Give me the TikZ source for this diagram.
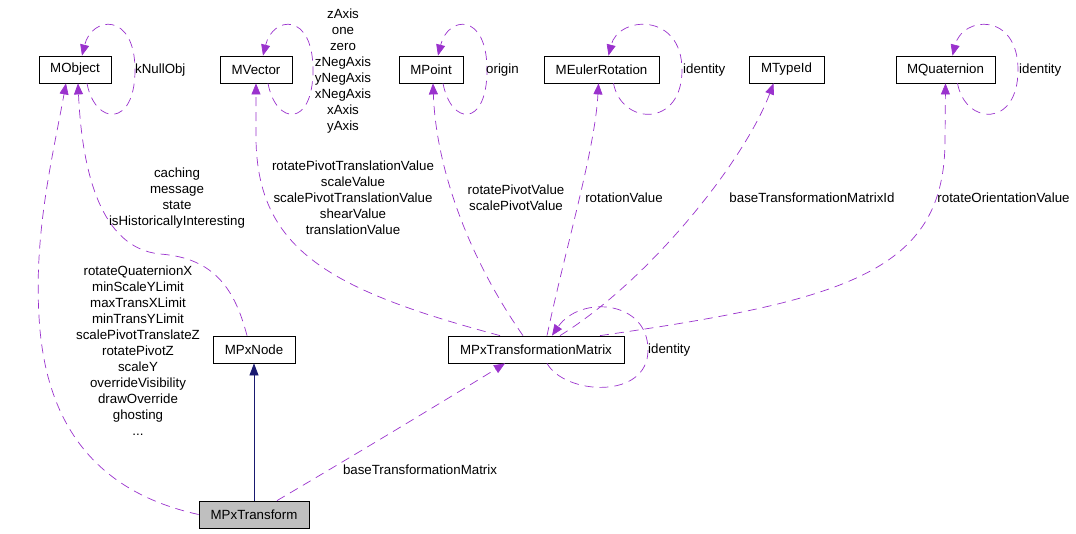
\documentclass[tikz,border=0pt]{standalone}
\usepackage{fontspec}
\setmainfont{Liberation Sans}
\usetikzlibrary{arrows.meta}
\definecolor{refcolor}{RGB}{154,50,205}
\definecolor{inhcolor}{RGB}{25,25,112}
\definecolor{boxgray}{RGB}{191,191,191}

\begin{document}
\begin{tikzpicture}[x=1pt,y=-1pt,
    font=\fontsize{13.3}{16}\selectfont,
    cls/.style={draw,line width=.8pt,inner sep=0pt,minimum height=27pt},
    ref/.style={refcolor,dash pattern=on 9pt off 6pt,line width=.7pt,-{Triangle[length=11pt,width=9pt]}},
    inh/.style={inhcolor,line width=.8pt,-{Triangle[length=12pt,width=9pt]}},
    lbl/.style={align=center,inner sep=0pt}]

    \useasboundingbox (0,0) rectangle (1076,533);

    %draw classes:
    \node[cls,minimum width=72pt] (obj) at (75,69.5) {MObject};
    \node[cls,minimum width=72pt] (vec) at (256,69.5) {MVector};
    \node[cls,minimum width=64pt] (pt) at (431,69.5) {MPoint};
    \node[cls,minimum width=115pt] (eul) at (601.5,69.5) {MEulerRotation};
    \node[cls,minimum width=75pt] (typ) at (786.5,69.5) {MTypeId};
    \node[cls,minimum width=99pt] (quat) at (945.5,69.5) {MQuaternion};
    \node[cls,minimum width=82pt] (pxnode) at (254,349.5) {MPxNode};
    \node[cls,minimum width=176pt] (mtx) at (536,349.5) {MPxTransformationMatrix};
    \node[cls,minimum width=110pt,fill=boxgray] (xform) at (254,514.5) {MPxTransform};

    %self loops on top row:
    \foreach \n/\r in {obj/135,vec/313,pt/487,eul/682,quat/1018}
        \draw[ref] ([xshift=12]\n.south) .. controls +(8,42) and +(0,58) .. (\r,70)
            .. controls +(0,-58) and +(10,-40) .. ([xshift=7]\n.north);

    %members of MPxTransform:
    \draw[inh] (xform) -- (pxnode);
    \draw[ref] (xform.west) .. controls (110,495) and (50,440) .. (40,330)
        .. controls (32,240) and (52,160) .. ([xshift=-9]obj.south);
    \draw[ref] ([xshift=23]xform.north) .. controls (380,440) and (470,385) .. ([xshift=-31]mtx.south);

    %MPxNode:
    \draw[ref] ([xshift=-7]pxnode.north) .. controls (235,290) and (215,258) .. (160,254)
        .. controls (100,248) and (82,170) .. ([xshift=3]obj.south);

    %MPxTransformationMatrix:
    \draw[ref] ([xshift=-36]mtx.north) .. controls (330,290) and (258,250) .. (256,140) -- (vec.south);
    \draw[ref] ([xshift=-13]mtx.north) .. controls (470,260) and (436,170) .. ([xshift=2]pt.south);
    \draw[ref] ([xshift=11]mtx.north) .. controls (565,250) and (595,150) .. ([xshift=-3]eul.south);
    \draw[ref] ([xshift=24]mtx.north) .. controls (650,280) and (745,160) .. ([xshift=-13]typ.south);
    \draw[ref] ([xshift=64]mtx.north) .. controls (850,300) and (945,270) .. (945,140) -- (quat.south);
    \draw[ref] ([xshift=11]mtx.south) .. controls (565,395) and (648,400) .. (648,350)
        .. controls (648,300) and (580,295) .. ([xshift=16]mtx.north);

    %labels:
    \node[lbl,anchor=west] (lnull) at (135,70) {kNullObj};
    \node[lbl] (lvecself) at (343,71) {zAxis\\one\\zero\\zNegAxis\\yNegAxis\\xNegAxis\\xAxis\\yAxis};
    \node[lbl,anchor=west] (lorigin) at (486,70) {origin};
    \node[lbl,anchor=west] (leulself) at (683,70) {identity};
    \node[lbl,anchor=west] (lquatself) at (1019,70) {identity};
    \node[lbl] (lnode) at (177,198.5) {caching\\message\\state\\isHistoricallyInteresting};
    \node[lbl] (lvec) at (353,198) {rotatePivotTranslationValue\\scaleValue\\scalePivotTranslationValue\\shearValue\\translationValue};
    \node[lbl] (lpt) at (516,198) {rotatePivotValue\\scalePivotValue};
    \node[lbl] (leul) at (624,198) {rotationValue};
    \node[lbl] (ltyp) at (812,198) {baseTransformationMatrixId};
    \node[lbl] (lquat) at (1003.5,198) {rotateOrientationValue};
    \node[lbl] (lobj) at (138,351) {rotateQuaternionX\\minScaleYLimit\\maxTransXLimit\\minTransYLimit\\scalePivotTranslateZ\\rotatePivotZ\\scaleY\\overrideVisibility\\drawOverride\\ghosting\\...};
    \node[lbl,anchor=west] (lmtxself) at (648,350) {identity};
    \node[lbl] (lmtx) at (420,470) {baseTransformationMatrix};

\end{tikzpicture}
\end{document}
